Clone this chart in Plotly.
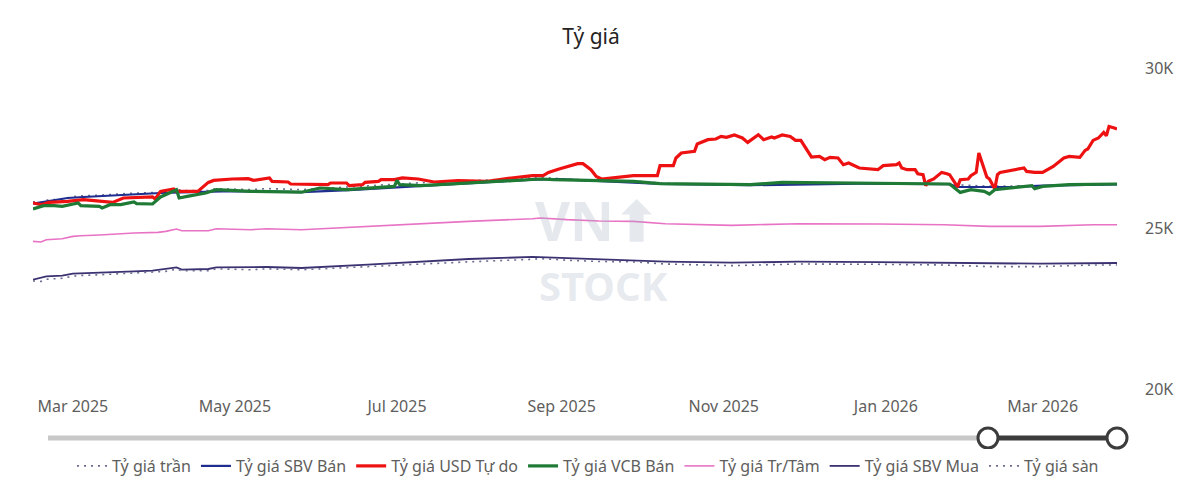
import plotly.graph_objects as go

title_text = "Tỷ giá"

# ---- Tỷ giá USD Tự do ----
usd_dates = ["2025-02-14","2025-02-17","2025-02-20","2025-02-27","2025-03-05","2025-03-11","2025-03-16","2025-03-20","2025-03-31","2025-04-01",
             "2025-04-03","2025-04-08","2025-04-09","2025-04-17","2025-04-21","2025-04-23","2025-04-30","2025-05-06","2025-05-08","2025-05-14",
             "2025-05-15","2025-05-21","2025-05-22","2025-06-05","2025-06-06","2025-06-12","2025-06-13","2025-06-18","2025-06-19","2025-06-24",
             "2025-06-25","2025-06-30","2025-07-03","2025-07-09","2025-07-15","2025-07-24","2025-08-04","2025-08-13","2025-08-21","2025-08-25",
             "2025-08-27","2025-08-31","2025-09-07","2025-09-09","2025-09-12","2025-09-14","2025-09-16","2025-09-28","2025-10-07","2025-10-08",
             "2025-10-13","2025-10-14","2025-10-16","2025-10-21","2025-10-22","2025-10-26","2025-10-29","2025-10-31","2025-11-02","2025-11-05",
             "2025-11-08","2025-11-10","2025-11-14","2025-11-16","2025-11-19","2025-11-20","2025-11-23","2025-11-26","2025-11-28","2025-11-30",
             "2025-12-04","2025-12-07","2025-12-09","2025-12-11","2025-12-14","2025-12-16","2025-12-18","2025-12-22","2025-12-29","2025-12-31",
             "2026-01-05","2026-01-06","2026-01-07","2026-01-09","2026-01-12","2026-01-13","2026-01-15","2026-01-16","2026-01-17","2026-01-19",
             "2026-01-22","2026-01-24","2026-01-25","2026-01-28","2026-01-29","2026-02-01","2026-02-02","2026-02-04","2026-02-05","2026-02-08",
             "2026-02-09","2026-02-11","2026-02-12","2026-02-13","2026-02-22","2026-02-23","2026-02-26","2026-03-01","2026-03-03","2026-03-05",
             "2026-03-09","2026-03-11","2026-03-15","2026-03-17","2026-03-18","2026-03-20","2026-03-22","2026-03-24","2026-03-25","2026-03-26",
             "2026-03-28","2026-03-29"]
usd_vals = [25795,25742,25813,25845,25898,25845,25813,25950,25982,25920,
            26156,26231,26156,26156,26436,26499,26542,26552,26499,26574,
            26468,26449,26387,26365,26418,26418,26334,26365,26436,26468,
            26521,26521,26574,26542,26449,26489,26468,26574,26645,26645,
            26748,26854,27019,27019,26832,26623,26542,26645,26645,26957,
            26957,27197,27352,27402,27633,27767,27788,27869,27838,27913,
            27820,27683,27922,27767,27851,27820,27913,27869,27745,27745,
            27228,27246,27144,27215,27197,26988,27041,26885,26832,26957,
            26988,27041,26885,26832,26832,26707,26676,26334,26468,26542,
            26748,26707,26676,26293,26521,26542,26645,26748,27352,26605,
            26542,26231,26676,26748,26885,26779,26748,26748,26854,26935,
            27197,27246,27215,27433,27477,27745,27820,27994,27891,28181,
            28131,28100]

# ---- Tỷ giá VCB Bán ----
vcb_dates = ["2025-02-14","2025-02-18","2025-02-22","2025-02-25","2025-03-03","2025-03-04","2025-03-11","2025-03-12","2025-03-15","2025-03-19",
             "2025-03-24","2025-03-25","2025-03-31","2025-04-03","2025-04-09","2025-04-10","2025-04-13","2025-04-17","2025-04-20","2025-04-24",
             "2025-04-30","2025-05-07","2025-05-26","2025-06-02","2025-06-12","2025-06-30","2025-07-01","2025-07-02","2025-07-10","2025-07-27",
             "2025-08-09","2025-08-24","2025-08-29","2025-09-15","2025-09-28","2025-10-08","2025-11-11","2025-11-23","2025-12-22","2026-01-25",
             "2026-01-29","2026-02-02","2026-02-07","2026-02-09","2026-02-11","2026-02-23","2026-02-25","2026-02-26","2026-03-01","2026-03-11",
             "2026-03-23","2026-03-29"]
vcb_vals = [25608,25711,25711,25689,25795,25711,25689,25639,25742,25742,
            25826,25773,25764,25982,26209,25950,26000,26053,26106,26209,
            26178,26156,26131,26262,26209,26312,26499,26365,26334,26418,
            26468,26542,26521,26489,26468,26396,26365,26436,26418,26387,
            26125,26209,26156,26075,26209,26334,26334,26240,26312,26365,
            26387,26387]

# ---- Tỷ giá SBV Bán ----
sbv_ban_dates = ["2025-02-14","2025-02-19","2025-02-27","2025-03-05","2025-03-24","2025-04-03","2025-04-30","2025-05-26","2025-06-13","2025-07-10",
                 "2025-08-21","2025-08-31","2025-09-15","2025-10-08","2025-11-11","2025-12-22","2026-01-25","2026-01-28","2026-02-18","2026-03-01",
                 "2026-03-29"]
sbv_ban_vals = [25773,25845,25950,25982,26075,26106,26162,26131,26194,26318,
                26521,26536,26474,26387,26349,26396,26380,26293,26293,26334,
                26371]

# ---- Tỷ giá Tr/Tâm, trần, sàn ----
center_dates = ["2025-02-14","2025-02-17","2025-02-19","2025-02-25","2025-03-01","2025-03-04","2025-03-11","2025-03-24","2025-04-02","2025-04-05",
                "2025-04-09","2025-04-11","2025-04-21","2025-04-24","2025-05-07","2025-05-13","2025-05-26","2025-06-20","2025-07-15","2025-07-28",
                "2025-08-21","2025-08-24","2025-09-03","2025-09-15","2025-09-28","2025-10-10","2025-11-04","2025-11-29","2025-12-29","2026-01-23",
                "2026-02-09","2026-02-28","2026-03-20","2026-03-29"]
center_vals = [24599,24580,24652,24683,24754,24776,24798,24860,24879,24910,
               24985,24932,24932,24994,24963,24994,24963,25066,25190,25222,
               25306,25328,25275,25234,25222,25150,25097,25150,25141,25119,
               25066,25066,25119,25119]
ceiling_vals = [25829,25809,25885,25917,25992,26015,26038,26103,26123,26156,
                26234,26179,26179,26244,26211,26244,26211,26319,26450,26483,
                26571,26594,26539,26496,26483,26408,26352,26408,26398,26375,
                26319,26319,26375,26375]
floor_vals = [23369,23351,23419,23449,23516,23537,23558,23617,23635,23665,
              23736,23685,23685,23744,23715,23744,23715,23813,23931,23961,
              24041,24062,24011,23972,23961,23893,23842,23893,23884,23863,
              23813,23813,23863,23863]

# ---- Tỷ giá SBV Mua ----
sbv_mua_dates = ["2025-02-14","2025-02-19","2025-02-25","2025-03-01","2025-03-24","2025-03-31","2025-04-09","2025-04-11","2025-04-21","2025-04-24",
                 "2025-05-13","2025-05-26","2025-06-20","2025-07-02","2025-07-17","2025-07-28","2025-08-21","2025-09-15","2025-10-10","2025-11-04",
                 "2025-11-29","2025-12-29","2026-01-23","2026-02-09","2026-02-28","2026-03-29"]
sbv_mua_vals = [23406,23508,23530,23592,23664,23686,23789,23717,23739,23789,
                23801,23770,23873,23926,24007,24050,24113,24029,23966,23935,
                23966,23951,23935,23904,23904,23926]

y_ticks = [20000, 25000, 30000]
y_tick_labels = ["20K", "25K", "30K"]
x_start, x_end = "2025-02-14", "2026-03-29"

FONT = "Segoe UI, Noto Sans, sans-serif"
GRAY = "#605e5c"

fig = go.Figure()
series = [
    ("Tỷ giá trần", center_dates, ceiling_vals, "#6a6e90", 1.6, "2px,5px"),
    ("Tỷ giá SBV Bán", sbv_ban_dates, sbv_ban_vals, "#1f2d8f", 2.2, "solid"),
    ("Tỷ giá USD Tự do", usd_dates, usd_vals, "#ee1111", 3.2, "solid"),
    ("Tỷ giá VCB Bán", vcb_dates, vcb_vals, "#1f7a36", 3.2, "solid"),
    ("Tỷ giá Tr/Tâm", center_dates, center_vals, "#e873c4", 1.6, "solid"),
    ("Tỷ giá SBV Mua", sbv_mua_dates, sbv_mua_vals, "#3b3272", 1.8, "solid"),
    ("Tỷ giá sàn", center_dates, floor_vals, "#6a6e90", 1.6, "2px,5px"),
]
for name, xs, ys, col, w, dash in series:
    fig.add_trace(go.Scatter(x=xs, y=ys, name=name, mode="lines",
                             line=dict(color=col, width=w, dash=dash)))

L, R, T, B = 33, 83, 68, 101
W, H = 1200, 490
pw = W - L - R
ph = H - T - B

def px_x(p):
    return (p - L) / pw

def px_y(p):
    return (H - B - p) / ph

shapes = []
slider_y = px_y(438)
shapes.append(dict(type="line", xref="paper", yref="paper", x0=px_x(48), x1=px_x(988),
                   y0=slider_y, y1=slider_y, line=dict(color="#c8c8c8", width=5)))
shapes.append(dict(type="line", xref="paper", yref="paper", x0=px_x(988), x1=px_x(1117),
                   y0=slider_y, y1=slider_y, line=dict(color="#3c3c3c", width=5)))
for cx in (988, 1117):
    shapes.append(dict(type="circle", xref="paper", yref="paper", xsizemode="pixel", ysizemode="pixel",
                       xanchor=px_x(cx), yanchor=slider_y, x0=-10, x1=10, y0=-10, y1=10,
                       fillcolor="white", line=dict(color="#3c3c3c", width=3)))

WM = "rgba(170,182,198,0.30)"
annotations = [
    dict(text="<b>VN⬆</b>", xref="paper", yref="paper", x=px_x(597), y=px_y(220),
         xanchor="center", yanchor="middle", showarrow=False,
         font=dict(family=FONT, size=54, color=WM)),
    dict(text="<b>STOCK</b>", xref="paper", yref="paper", x=px_x(603), y=px_y(285),
         xanchor="center", yanchor="middle", showarrow=False,
         font=dict(family=FONT, size=40, color=WM)),
]

fig.update_layout(
    width=W, height=H,
    margin=dict(l=L, r=R, t=T, b=B, autoexpand=False),
    paper_bgcolor="white", plot_bgcolor="white",
    font=dict(family=FONT, color=GRAY, size=16),
    title=dict(text=title_text, x=591 / W, xref="container", xanchor="center",
               y=1 - 37 / H, yref="container", yanchor="middle",
               font=dict(family=FONT, size=21, color="#252423")),
    showlegend=True,
    legend=dict(orientation="h", x=px_x(588), xanchor="center", y=px_y(466), yanchor="middle",
                font=dict(family=FONT, size=16, color=GRAY), itemwidth=30,
                tracegroupgap=0),
    xaxis=dict(type="date", range=[x_start, x_end], showgrid=False, zeroline=False, showline=False,
               ticks="", tickformat="%b %Y", dtick="M2", tick0="2025-03-01",
               tickfont=dict(size=16, color=GRAY), ticklabelstandoff=6),
    yaxis=dict(side="right", range=[20000, 30000], tickvals=y_ticks, ticktext=y_tick_labels,
               showgrid=False, zeroline=False, showline=False, ticks="",
               tickfont=dict(size=16, color=GRAY), ticklabelstandoff=27),
    shapes=shapes,
    annotations=annotations,
    hovermode="x unified",
)

fig.write_html("out.html")
